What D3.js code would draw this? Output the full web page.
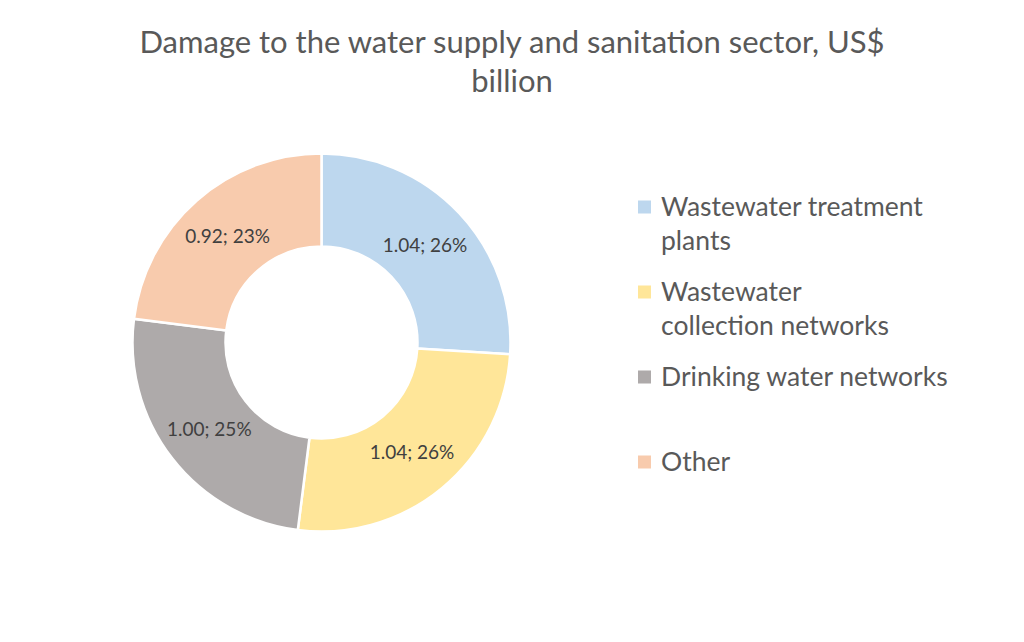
<!DOCTYPE html>
<html lang="en">
<head>
    <meta charset="UTF-8">
    <title>Damage to the water supply and sanitation sector</title>
    <script src="https://d3js.org/d3.v7.min.js"></script>
    <style>
        body {
            margin: 0;
            background: #fff;
            font-family: Lato, "Open Sans", sans-serif;
        }
    </style>
</head>
<body>
    <svg id="chart" width="1024" height="642"></svg>

    <script>
        // Data
        const categories = ["Wastewater treatment plants", "Wastewater collection networks", "Drinking water networks", "Other"];
        const values = [1.04, 1.04, 1.00, 0.92];
        const shares = [26, 26, 25, 23];
        const colors = ["#BDD7EE", "#FFE699", "#AEAAAA", "#F8CBAD"];
        // legend text is wrapped like in the original
        const legendLines = [["Wastewater treatment", "plants"], ["Wastewater", "collection networks"], ["Drinking water networks"], ["Other"]];
        const titleLines = ["Damage to the water supply and sanitation sector, US$", "billion"];

        const svg = d3.select("#chart");

        // Title
        svg.append("g")
            .selectAll("text")
            .data(titleLines)
            .join("text")
            .attr("x", 512)
            .attr("y", (d, i) => 53 + i * 39)
            .attr("text-anchor", "middle")
            .attr("fill", "#595959")
            .style("font-size", "31px")
            .text(d => d);

        // Donut
        const cx = 321.5, cy = 342.5;
        const outerR = 189, innerR = 96;

        const pie = d3.pie().sort(null).value(d => d.value);
        const arc = d3.arc().innerRadius(innerR).outerRadius(outerR);
        const labelArc = d3.arc().innerRadius(142).outerRadius(142);

        const data = categories.map((c, i) => ({ name: c, value: values[i], share: shares[i], color: colors[i] }));
        const arcs = pie(data);

        const g = svg.append("g").attr("transform", `translate(${cx},${cy})`);

        g.selectAll("path")
            .data(arcs)
            .join("path")
            .attr("d", arc)
            .attr("fill", d => d.data.color)
            .attr("stroke", "#fff")
            .attr("stroke-width", 2.5);

        g.selectAll(".label")
            .data(arcs)
            .join("text")
            .attr("class", "label")
            .attr("transform", d => `translate(${labelArc.centroid(d)})`)
            .attr("text-anchor", "middle")
            .attr("dy", "0.35em")
            .attr("fill", "#404040")
            .style("font-size", "19px")
            .text(d => `${d3.format(".2f")(d.data.value)}; ${d.data.share}%`);

        // Legend
        const legendY = d3.scalePoint().domain(categories).range([207, 462]);
        const legend = svg.append("g")
            .selectAll("g")
            .data(data)
            .join("g")
            .attr("transform", d => `translate(638,${legendY(d.name)})`);

        legend.append("rect")
            .attr("x", 0)
            .attr("y", -6.5)
            .attr("width", 13)
            .attr("height", 13)
            .attr("fill", d => d.color);

        legend.append("text")
            .attr("fill", "#595959")
            .style("font-size", "26.5px")
            .selectAll("tspan")
            .data((d, i) => legendLines[i])
            .join("tspan")
            .attr("x", 23)
            .attr("y", (d, i) => i * 34)
            .attr("dy", "0.35em")
            .text(d => d);
    </script>
</body>
</html>
